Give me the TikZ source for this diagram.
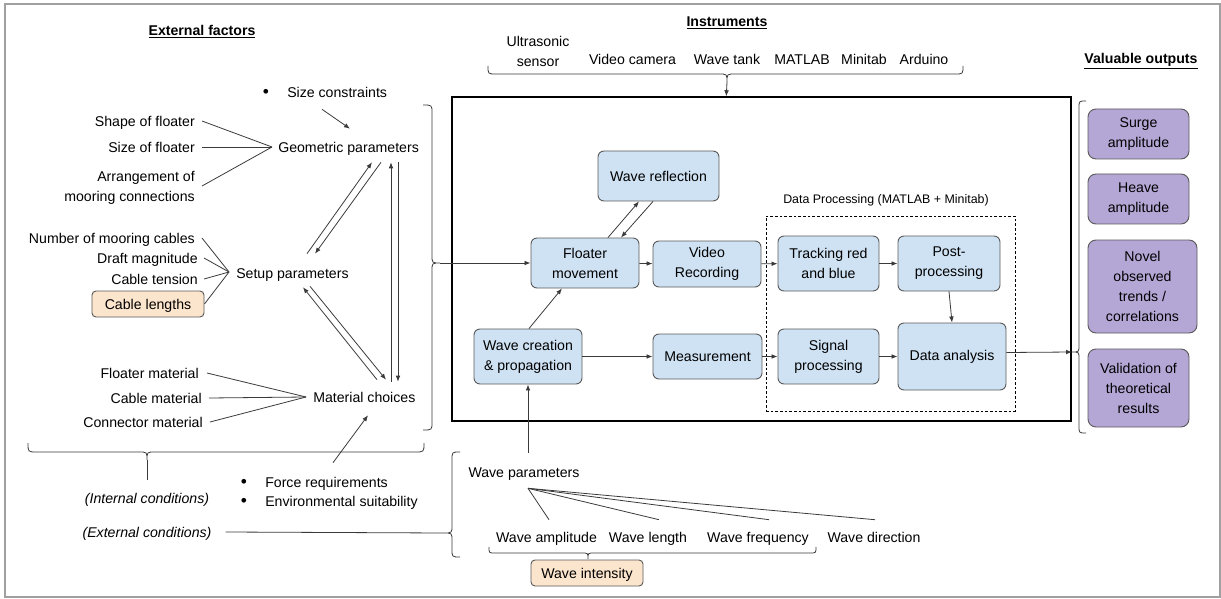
\documentclass[tikz,border=0pt]{standalone}
\usepackage{fontspec}
\setmainfont{Liberation Sans}
\usetikzlibrary{arrows.meta,calc}

\definecolor{boxblue}{HTML}{CFE2F3}
\definecolor{peach}{HTML}{FCE5CD}
\definecolor{lilac}{HTML}{B4A7D6}
\definecolor{boxline}{HTML}{5A5A5A}
\definecolor{lineclr}{HTML}{3A3A3A}
\definecolor{framegray}{HTML}{A0A0A0}

\newcommand\mainsz{\fontsize{10.6}{15}\selectfont}
\newcommand\smallsz{\fontsize{9.3}{11}\selectfont}
\newcommand\dotsz{\fontsize{13}{13}\selectfont}

\begin{document}
\begin{tikzpicture}[x=0.75pt,y=-0.75pt,
  every node/.style={font=\mainsz, text=black},
  sz/.style 2 args={minimum width=#1*0.75pt, minimum height=#2*0.75pt},
  lbl/.style={inner sep=3pt, text height=9.1pt, text depth=0.7pt},
  lbltwo/.style={inner sep=3pt, align=right},
  proc/.style={draw=boxline, fill=boxblue, rounded corners=4.5pt, align=center, line width=0.7pt, inner sep=2pt},
  tanbox/.style={draw=boxline, fill=peach, rounded corners=3pt, line width=0.7pt, inner sep=2pt, text height=9.1pt, text depth=0.7pt},
  outbox/.style={draw=boxline, fill=lilac, rounded corners=6pt, align=center, line width=0.7pt, inner sep=2pt},
  conn/.style={draw=lineclr, line width=0.6pt},
  arr/.style={conn, -{Latex[length=4.5pt,width=3.5pt]}},
  brace/.style={draw=lineclr, line width=0.6pt},
  ttl/.style={font=\mainsz\bfseries, inner sep=2pt}
]
\useasboundingbox (0,0) rectangle (1221,599);
\draw[framegray, line width=1.2pt] (5,4) rectangle (1220,597);

% ---------- headings ----------
\node[ttl] (tef) at (202,32) {\underline{External factors}};
\node[ttl] (tin) at (727,23) {\underline{Instruments}};
\node[ttl] (tvo) at (1141,61) {\underline{Valuable outputs}};

% ---------- instruments ----------
\node[align=center, inner sep=2pt] (ius) at (538,51.5) {Ultrasonic\\sensor};
\node[lbl] (ivc) at (632.5,59) {Video camera};
\node[lbl] (iwt) at (727,59) {Wave tank};
\node[lbl] (iml) at (802,59) {MATLAB};
\node[lbl] (imt) at (864,59) {Minitab};
\node[lbl] (iar) at (924,59) {Arduino};
\draw[brace] (488,66) .. controls (488,74) .. (496,74) -- (719,74)
  .. controls (727,74) .. (727,82) .. controls (727,74) .. (735,74)
  -- (955,74) .. controls (963,74) .. (963,66);
\coordinate (instip) at (727,82);

% ---------- laboratory block ----------
\node[draw=black, line width=1.1pt, sz={619}{324}] (lab) at (761.5,259) {};
\draw[arr] (instip) -- ($(lab.north west)+(275,0)$);

\node[draw=black, dashed, dash pattern=on 2pt off 1.5pt, line width=0.5pt, sz={249}{195}] (dp) at (890.5,313.5) {};
\node[font=\smallsz, inner sep=1pt] (dplab) at (886,200) {Data Processing (MATLAB + Minitab)};

\node[proc, sz={121}{50}] (refl) at (658.5,176) {Wave reflection};
\node[proc, sz={108}{50}] (floater) at (585,263) {Floater\\movement};
\node[proc, sz={108}{46}] (video) at (707,264) {Video\\Recording};
\node[proc, sz={101}{55}] (track) at (828.5,263.5) {Tracking red\\and blue};
\node[proc, sz={102}{55}] (post) at (949,263.5) {Post-\\processing};
\node[proc, sz={108}{55}] (wavec) at (528,356.5) {Wave creation\\\& propagation};
\node[proc, sz={109}{45}] (meas) at (707.5,356.5) {Measurement};
\node[proc, sz={101}{55}] (signal) at (828.5,356.5) {Signal\\processing};
\node[proc, sz={108}{67}] (data) at (952,356.5) {Data analysis};

\draw[arr] ($(floater.north)+(23,0)$) -- ($(refl.south)+(-19.5,0)$);
\draw[arr] ($(refl.south)+(-5.5,0)$) -- ($(floater.north)+(36,0)$);
\draw[arr] (floater) -- (video);
\draw[arr] (video) -- (track);
\draw[arr] (track) -- (post);
\draw[arr] (post.south) -- (data.north);
\draw[arr] ($(wavec.north)+(1,0)$) -- ($(floater.south)+(-23,0)$);
\draw[arr] (wavec) -- (meas);
\draw[arr] (meas) -- (signal);
\draw[arr] (signal) -- (data);

% ---------- external factors ----------
\node[lbl, anchor=east] (shape) at (199,121) {Shape of floater};
\node[lbl, anchor=east] (sizef) at (199,147) {Size of floater};
\node[lbltwo, anchor=east] (arrange) at (199,188) {Arrangement of\\mooring connections};
\node[lbl, anchor=west] (geo) at (274,147) {Geometric parameters};
\node[lbl] (dot1) at (266,92) {\dotsz •};
\node[lbl, anchor=west] (sizec) at (283,92) {Size constraints};

\node[lbl, anchor=east] (ncab) at (199,238) {Number of mooring cables};
\node[lbl, anchor=east] (draft) at (202,258) {Draft magnitude};
\node[lbl, anchor=east] (tens) at (202,279) {Cable tension};
\node[tanbox, sz={112}{26}] (clen) at (148,304) {Cable lengths};
\node[lbl, anchor=west] (setup) at (232,273) {Setup parameters};

\node[lbl, anchor=east] (fmat) at (203,373) {Floater material};
\node[lbl, anchor=east] (cmat) at (206,398) {Cable material};
\node[lbl, anchor=east] (conmat) at (207,422) {Connector material};
\node[lbl, anchor=west] (mat) at (309,397) {Material choices};

\node[lbl] (dot2) at (244,482) {\dotsz •};
\node[lbl, anchor=west] (force) at (261,482) {Force requirements};
\node[lbl] (dot3) at (244,501) {\dotsz •};
\node[lbl, anchor=west] (env) at (261,501) {Environmental suitability};

\node[lbl, font=\mainsz\itshape] (intc) at (147,498) {(Internal conditions)};
\node[lbl, font=\mainsz\itshape] (extc) at (147,532) {(External conditions)};

% converging inputs
\draw[conn] ($(shape.east)+(3,0)$) -- ($(geo.west)+(-2,0)$);
\draw[conn] ($(sizef.east)+(3,0)$) -- ($(geo.west)+(-2,0)$);
\draw[conn] ($(arrange.east)+(3,-2)$) -- ($(geo.west)+(-2,0)$);
\draw[conn] ($(ncab.east)+(3,0)$) -- ($(setup.west)+(-3,-1)$);
\draw[conn] ($(draft.east)+(2,0)$) -- ($(setup.west)+(-3,-1)$);
\draw[conn] ($(tens.east)+(2,0)$) -- ($(setup.west)+(-3,-1)$);
\draw[conn] (clen.east) -- ($(setup.west)+(-3,-1)$);
\draw[conn] ($(fmat.east)+(4,0)$) -- ($(mat.west)+(-3,0)$);
\draw[conn] ($(cmat.east)+(3,0)$) -- ($(mat.west)+(-3,0)$);
\draw[conn] ($(conmat.east)+(3,0)$) -- ($(mat.west)+(-3,0)$);

% links between the parameter groups
\draw[arr] ($(sizec.south west)+(39,6.5)$) -- ($(geo.north west)+(76,-7.5)$);
\draw[arr] ($(setup.north west)+(75,-8.5)$) -- ($(geo.south west)+(98,4.5)$);
\draw[arr] ($(geo.south west)+(107,4.5)$) -- ($(setup.north west)+(83,-8.5)$);
\draw[arr] ($(mat.north west)+(82,-4.5)$) -- ($(geo.south west)+(117,4.5)$);
\draw[arr] ($(geo.south west)+(124,4.5)$) -- ($(mat.north west)+(89,-4.5)$);
\draw[arr] ($(mat.north west)+(68,-6.5)$) -- ($(setup.south west)+(71,3.5)$);
\draw[arr] ($(setup.south west)+(78,2.5)$) -- ($(mat.north west)+(77,-6.5)$);
\draw[arr] ($(force.north west)+(72,-8.5)$) -- ($(mat.south west)+(59,7.5)$);

% brace gathering the factors into the laboratory block
\draw[brace] (423,105) .. controls (432,105) .. (432,113) -- (432,255)
  .. controls (432,263) .. (440,263) .. controls (432,263) .. (432,271)
  -- (432,422) .. controls (432,430) .. (423,430);
\coordinate (lbtip) at (440,263);
\draw[arr] (lbtip) -- (floater.west);

% brace over the internal conditions
\draw[brace] (28,443) .. controls (28,452) .. (37,452) -- (139,452)
  .. controls (147,452) .. (147,460) .. controls (147,452) .. (155,452)
  -- (415,452) .. controls (424,452) .. (424,443);
\coordinate (ictip) at (147,460);
\draw[conn] (ictip) -- ($(intc.north)+(0,-7)$);

% ---------- wave parameters ----------
\node[lbl] (wpar) at (524,472) {Wave parameters};
\node[lbl] (wamp) at (546.5,537) {Wave amplitude};
\node[lbl] (wlen) at (648,537) {Wave length};
\node[lbl] (wfreq) at (758,537) {Wave frequency};
\node[lbl] (wdir) at (874,537) {Wave direction};
\node[tanbox, sz={112}{26}] (wint) at (587,573) {Wave intensity};

\draw[arr] ($(wpar.north)+(4,-8.5)$) -- (wavec.south);
\draw[conn] ($(wpar.south)+(4,5.5)$) -- ($(wamp.north)+(2.5,-6.5)$);
\draw[conn] ($(wpar.south)+(4,5.5)$) -- ($(wlen.north)+(11,-6.5)$);
\draw[conn] ($(wpar.south)+(4,5.5)$) -- ($(wfreq.north)+(11,-6.5)$);
\draw[conn] ($(wpar.south)+(4,5.5)$) -- ($(wdir.north)+(1,-6.5)$);

\draw[brace] (489,547) .. controls (489,553) .. (495,553) -- (582,553)
  .. controls (588,553) .. (588,559) .. controls (588,553) .. (594,553)
  -- (810,553) .. controls (816,553) .. (816,547);

\draw[brace] (460,452) .. controls (452,452) .. (452,460) -- (452,525)
  .. controls (452,533) .. (444,533) .. controls (452,533) .. (452,541)
  -- (452,549) .. controls (452,557) .. (460,557);
\coordinate (wbtip) at (444,533);
\draw[conn] ($(extc.east)+(10,0)$) -- (wbtip);

% ---------- valuable outputs ----------
\node[outbox, sz={101}{50}] (surge) at (1138.5,134) {Surge\\amplitude};
\node[outbox, sz={101}{50}] (heave) at (1138.5,199) {Heave\\amplitude};
\node[outbox, sz={109}{93}] (novel) at (1142.5,286.5) {Novel\\observed\\trends /\\correlations};
\node[outbox, sz={101}{78}] (valid) at (1138.5,388) {Validation of\\theoretical\\results};

\draw[brace] (1086,101) .. controls (1079,101) .. (1079,108) -- (1079,345)
  .. controls (1079,352) .. (1072,352) .. controls (1079,352) .. (1079,359)
  -- (1079,426) .. controls (1079,433) .. (1086,433);
\coordinate (obtip) at (1072,352);
\draw[arr] ($(data.east)+(0,-4)$) -- (obtip);
\end{tikzpicture}
\end{document}
